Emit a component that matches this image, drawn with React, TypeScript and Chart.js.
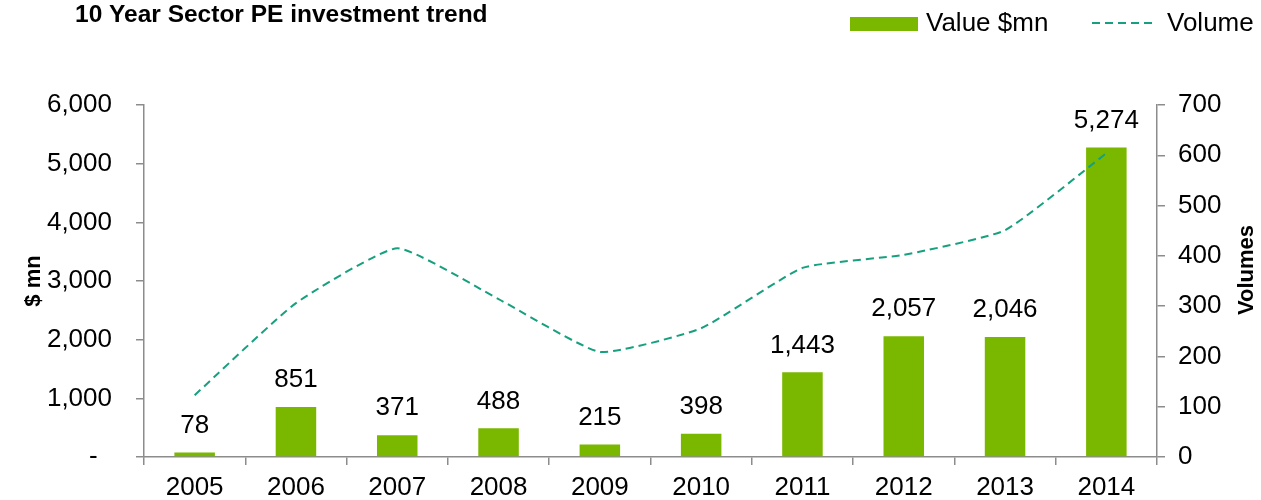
import React, { useEffect, useRef } from 'react';
import { Chart, registerables } from 'chart.js';

Chart.register(...registerables);

const years = ['2005', '2006', '2007', '2008', '2009', '2010', '2011', '2012', '2013', '2014'];
const valueMn = [78, 851, 371, 488, 215, 398, 1443, 2057, 2046, 5274];
const volumes = [123, 306, 415, 314, 209, 256, 376, 402, 451, 604];

const FONT = '"Liberation Sans", Arial, sans-serif';
const BAR_COLOR = '#7AB800';
const LINE_COLOR = '#17A07F';
const AXIS_COLOR = '#8C8C8C';
const TEXT_SIZE = 26;

const fmt = (v: number) => v.toLocaleString('en-US');

const overlay = {
  id: 'overlay',
  afterDatasetsDraw(chart: any) {
    const ctx = chart.ctx;
    const meta = chart.getDatasetMeta(0);
    ctx.save();
    ctx.font = `${TEXT_SIZE}px ${FONT}`;
    ctx.fillStyle = '#000';
    ctx.textAlign = 'center';
    ctx.textBaseline = 'middle';
    meta.data.forEach((el: any, i: number) => {
      ctx.fillText(fmt(valueMn[i]), el.x, el.y - 27);
    });
    ctx.restore();
  },
  afterDraw(chart: any) {
    const ctx = chart.ctx;
    ctx.save();
    // title
    ctx.fillStyle = '#000';
    ctx.font = `bold 24.5px ${FONT}`;
    ctx.textAlign = 'left';
    ctx.textBaseline = 'alphabetic';
    ctx.fillText('10 Year Sector PE investment trend', 75, 22);

    // legend
    ctx.fillStyle = BAR_COLOR;
    ctx.fillRect(850, 17, 68, 14);
    ctx.fillStyle = '#000';
    ctx.font = `${TEXT_SIZE}px ${FONT}`;
    ctx.textBaseline = 'middle';
    ctx.fillText('Value $mn', 926, 24);
    ctx.strokeStyle = LINE_COLOR;
    ctx.lineWidth = 2;
    ctx.setLineDash([8, 5]);
    ctx.beginPath();
    ctx.moveTo(1092, 23);
    ctx.lineTo(1153, 23);
    ctx.stroke();
    ctx.setLineDash([]);
    ctx.fillText('Volume', 1167, 24);

    // axis titles
    ctx.font = `bold 22px ${FONT}`;
    ctx.textAlign = 'center';
    ctx.textBaseline = 'alphabetic';
    ctx.save();
    ctx.translate(40, 281);
    ctx.rotate(-Math.PI / 2);
    ctx.fillText('$ mn', 0, 0);
    ctx.restore();
    ctx.save();
    ctx.translate(1253, 270);
    ctx.rotate(-Math.PI / 2);
    ctx.fillText('Volumes', 0, 0);
    ctx.restore();
    ctx.restore();
  },
};

export default function App() {
  const ref = useRef<HTMLCanvasElement>(null);

  useEffect(() => {
    if (!ref.current) return;
    const chart = new Chart(ref.current, {
      type: 'bar',
      data: {
        labels: years,
        datasets: [
          {
            type: 'bar',
            label: 'Value $mn',
            data: valueMn,
            backgroundColor: BAR_COLOR,
            yAxisID: 'y',
            barPercentage: 0.4,
            categoryPercentage: 1,
            order: 1,
          },
          {
            type: 'line',
            label: 'Volume',
            data: volumes,
            borderColor: LINE_COLOR,
            borderWidth: 2,
            borderDash: [8, 5],
            pointRadius: 0,
            fill: false,
            tension: 0.15,
            yAxisID: 'y1',
            order: 0,
          },
        ],
      } as any,
      options: {
        animation: false,
        responsive: false,
        maintainAspectRatio: false,
        layout: { padding: { top: 105, left: 0, right: 0, bottom: 0 } },
        plugins: {
          legend: { display: false },
          tooltip: { enabled: false },
          title: { display: false },
        },
        scales: {
          x: {
            offset: true,
            grid: {
              offset: true,
              drawOnChartArea: false,
              drawTicks: true,
              tickLength: 8,
              color: AXIS_COLOR,
              lineWidth: 1.5,
            },
            border: { color: AXIS_COLOR, width: 1.5 },
            ticks: {
              color: '#000',
              font: { family: FONT, size: TEXT_SIZE },
              padding: 7,
              maxRotation: 0,
            },
            afterFit: (s: any) => {
              s.height = 43;
            },
          },
          y: {
            position: 'left',
            min: 0,
            max: 6000,
            grid: {
              drawOnChartArea: false,
              drawTicks: true,
              tickLength: 8,
              color: AXIS_COLOR,
              lineWidth: 1.5,
            },
            border: { color: AXIS_COLOR, width: 1.5 },
            ticks: {
              stepSize: 1000,
              color: '#000',
              font: { family: FONT, size: TEXT_SIZE },
              padding: 24,
              callback: (v: any) => (Number(v) === 0 ? '-  ' : fmt(Number(v))),
            },
            afterFit: (s: any) => {
              s.width = 144;
            },
          },
          y1: {
            position: 'right',
            min: 0,
            max: 700,
            grid: {
              drawOnChartArea: false,
              drawTicks: true,
              tickLength: 8,
              color: AXIS_COLOR,
              lineWidth: 1.5,
            },
            border: { color: AXIS_COLOR, width: 1.5 },
            ticks: {
              stepSize: 100,
              color: '#000',
              font: { family: FONT, size: TEXT_SIZE },
              padding: 13,
            },
            afterFit: (s: any) => {
              s.width = 104;
            },
          },
        },
      } as any,
      plugins: [overlay],
    });
    return () => chart.destroy();
  }, []);

  return (
    <div style={{ position: 'absolute', left: 0, top: 0, width: 1261, height: 500, background: '#fff' }}>
      <canvas ref={ref} width={1261} height={500} style={{ width: 1261, height: 500, display: 'block' }} />
    </div>
  );
}
